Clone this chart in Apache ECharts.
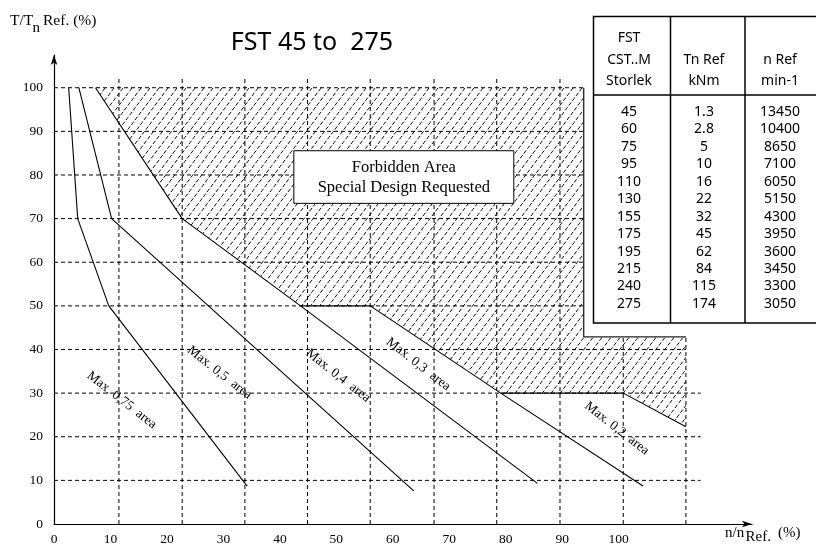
<!DOCTYPE html>
<html><head><meta charset="utf-8">
<script src="https://cdn.jsdelivr.net/npm/echarts@6/dist/echarts.min.js"></script>
<style>html,body{margin:0;padding:0;background:#fff}#c{width:816px;height:546px}</style>
</head><body><div id="c"></div>
<script>
// ---------- data ----------
const xTickLabels = [0,10,20,30,40,50,60,70,80,90,100];
const yTickLabels = [0,10,20,30,40,50,60,70,80,90,100];
const curve075 = [[2.6,100],[4.2,70],[9.7,50],[34.2,8.7]];
const curve05  = [[4.4,100],[10.2,70],[63.7,7.6]];
const curve04  = [[7.35,100],[22.7,70],[43.65,50],[85.6,9.3]];
const curve03  = [[56.0,50],[79.1,30],[104.3,8.7]];
const curve02  = [[79.1,30],[100.8,30],[111.9,22.3]];
const shelf50  = [[43.65,50],[56.0,50]];
const forbiddenArea = [[7.35,100],[22.7,70],[43.65,50],[56.0,50],[79.1,30],[100.8,30],[111.9,22.3],[111.9,42.9],[93.8,42.9],[93.8,100]];
const forbiddenEdge = [[111.9,42.9],[93.8,42.9],[93.8,100]];
const gridXValues = [11.5,22.7,33.8,44.9,56.0,67.3,78.4,89.6,100.8,111.9];
const gridXTops   = [102.6,102.6,102.6,102.6,102.6,102.6,102.6,102.6,42.9,42.9];
const gridYValues = [10,20,30,40,50,60,70,80,90,100];
const gridYEnds   = [114.5,114.5,114.5,111.9,93.8,93.8,93.8,93.8,93.8,93.8];
const areaLabels  = ['Max. 0,75  area','Max. 0,5  area','Max. 0,4  area','Max. 0,3  area','Max. 0,2  area'];
const areaLabelAt = [[12.0,28.4],[29.3,34.7],[50.3,34.0],[64.5,36.6],[99.65,21.9]];
const tableSizes = ['45','60','75','95','110','130','155','175','195','215','240','275'];
const tableTn    = ['1.3','2.8','5','10','16','22','32','45','62','84','115','174'];
const tableN     = ['13450','10400','8650','7100','6050','5150','4300','3950','3600','3450','3300','3050'];

// ---------- helpers ----------
const SERIF = '"Liberation Serif","Times New Roman",serif';
const SANS = '"Noto Sans","DejaVu Sans",sans-serif';
function makeHatch(){
  const c = document.createElement('canvas'); c.width = 18; c.height = 24;
  const g = c.getContext('2d');
  g.strokeStyle = '#111'; g.lineWidth = 1; g.setLineDash([4,2]);
  for (const off of [-18,-9,0,9,18]) { g.beginPath(); g.moveTo(off,24); g.lineTo(off+18,0); g.stroke(); }
  return c;
}
const hatch = makeHatch();

function lineSeries(data){
  return {type:'line', data:data, symbol:'none', silent:true, z:5, animation:false,
    lineStyle:{color:'#000', width:1.1}};
}

const chart = echarts.init(document.getElementById('c'), null, {renderer:'canvas'});

const graphics = [];
// title
graphics.push({type:'text', x:312, y:43, z:50, style:{text:'FST 45 to  275', font:'25px '+SANS, fill:'#000', align:'center', verticalAlign:'middle'}});
// y axis name
graphics.push({type:'text', x:10, y:21, z:50, style:{text:'T/T', font:'15.5px '+SERIF, fill:'#000', align:'left', verticalAlign:'middle'}});
graphics.push({type:'text', x:32.5, y:28.5, z:50, style:{text:'n', font:'15px '+SERIF, fill:'#000', align:'left', verticalAlign:'middle'}});
graphics.push({type:'text', x:43, y:21, z:50, style:{text:'Ref. (%)', font:'15.5px '+SERIF, fill:'#000', align:'left', verticalAlign:'middle'}});
// x axis name
graphics.push({type:'text', x:725, y:533, z:50, style:{text:'n/n', font:'15px '+SERIF, fill:'#000', align:'left', verticalAlign:'middle'}});
graphics.push({type:'text', x:745.5, y:537, z:50, style:{text:'Ref.', font:'15px '+SERIF, fill:'#000', align:'left', verticalAlign:'middle'}});
graphics.push({type:'text', x:778, y:533, z:50, style:{text:'(%)', font:'15px '+SERIF, fill:'#000', align:'left', verticalAlign:'middle'}});
// table
const tL = 593.5, tT = 16.5, tB = 323, tR = 830, hdrY = 95, c1 = 670.5, c2 = 745;
graphics.push({type:'rect', z:60, shape:{x:tL, y:tT, width:tR-tL, height:tB-tT}, style:{fill:'#fff', stroke:'#000', lineWidth:1.5}});
graphics.push({type:'line', z:61, shape:{x1:tL, y1:hdrY, x2:816, y2:hdrY}, style:{stroke:'#000', lineWidth:1.5}});
graphics.push({type:'line', z:61, shape:{x1:c1, y1:tT, x2:c1, y2:tB}, style:{stroke:'#000', lineWidth:1.5}});
graphics.push({type:'line', z:61, shape:{x1:c2, y1:tT, x2:c2, y2:tB}, style:{stroke:'#000', lineWidth:1.5}});
const colX = [629, 704, 780];
const hdr = [[['FST',38],['CST..M',60],['Storlek',81]], [['Tn Ref',60],['kNm',81]], [['n Ref',60],['min-1',81]]];
hdr.forEach((col,i)=>col.forEach(([t,y])=>graphics.push({type:'text', x:colX[i], y:y, z:62, style:{text:t, font:'14px '+SANS, fill:'#000', align:'center', verticalAlign:'middle'}})));
[tableSizes, tableTn, tableN].forEach((col,i)=>col.forEach((t,r)=>graphics.push({type:'text', x:colX[i], y:112+r*17.45, z:62, style:{text:t, font:'14px '+SANS, fill:'#000', align:'center', verticalAlign:'middle'}})));

const option = {
  animation:false,
  backgroundColor:'#fff',
  grid:{left:54, right:64, top:55, bottom:22, containLabel:false, outerBoundsMode:'none'},
  xAxis:{type:'value', min:0, max:123.6, interval:10,
    axisLine:{show:true, onZero:false, symbol:['none','arrow'], symbolSize:[5,10], lineStyle:{color:'#000', width:1.2}},
    axisTick:{show:false}, splitLine:{show:false}, showMaxLabel:false,
    axisLabel:{show:true, margin:8, color:'#000', fontFamily:SERIF, fontSize:13.5, showMaxLabel:false,
      formatter:v => xTickLabels.includes(v) ? String(v) : ''}},
  yAxis:{type:'value', min:0, max:107.5, interval:10,
    axisLine:{show:true, onZero:false, symbol:['none','arrow'], symbolSize:[5,10], lineStyle:{color:'#000', width:1.2}},
    axisTick:{show:false}, splitLine:{show:false},
    axisLabel:{show:true, margin:11, color:'#000', fontFamily:SERIF, fontSize:13.5, showMaxLabel:false,
      formatter:v => yTickLabels.includes(v) ? String(v) : ''}},
  graphic:graphics,
  series:[
    // hatched forbidden area
    {type:'custom', data:[[0,0]], silent:true, z:1, clip:false,
      renderItem:(p,api)=>({type:'polygon', shape:{points:forbiddenArea.map(q=>api.coord(q))},
        style:{fill:{image:hatch, repeat:'repeat'}, stroke:null}})},
    // grid lines
    {type:'custom', data:[[0,0]], silent:true, z:2, clip:false,
      renderItem:(p,api)=>{
        const ch = [];
        gridXValues.forEach((x,i)=>{const a=api.coord([x,0]), b=api.coord([x,gridXTops[i]]);
          ch.push({type:'line', shape:{x1:a[0],y1:a[1],x2:b[0],y2:b[1]}, style:{stroke:'#000', lineWidth:1, lineDash:[4,3]}});});
        gridYValues.forEach((y,i)=>{const a=api.coord([0,y]), b=api.coord([gridYEnds[i],y]);
          ch.push({type:'line', shape:{x1:a[0],y1:a[1],x2:b[0],y2:b[1]}, style:{stroke:'#000', lineWidth:1, lineDash:[4,3]}});});
        return {type:'group', children:ch};
      }},
    lineSeries(curve075), lineSeries(curve05), lineSeries(curve04), lineSeries(curve03), lineSeries(curve02), lineSeries(shelf50),
    {type:'line', data:forbiddenEdge, symbol:'none', silent:true, z:5, lineStyle:{color:'#222', width:1.3}},
    // curve labels
    {type:'custom', data:[[0,0]], silent:true, z:6, clip:false,
      renderItem:(p,api)=>({type:'group', children:areaLabels.map((t,i)=>{const c=api.coord(areaLabelAt[i]);
        return {type:'text', x:c[0], y:c[1], rotation:-38*Math.PI/180,
          style:{text:t, font:'13.5px '+SERIF, fill:'#000', align:'center', verticalAlign:'middle'}};})})},
    // forbidden area note
    {type:'custom', data:[[0,0]], silent:true, z:7, clip:false,
      renderItem:(p,api)=>{
        const a = api.coord([42.47,85.56]), b = api.coord([81.42,73.5]);
        const cx = (a[0]+b[0])/2;
        return {type:'group', children:[
          {type:'rect', shape:{x:a[0], y:a[1], width:b[0]-a[0], height:b[1]-a[1]}, style:{fill:'#fff', stroke:'#000', lineWidth:1}},
          {type:'text', x:cx, y:a[1]+17, style:{text:'Forbidden Area', font:'16.5px '+SERIF, fill:'#000', align:'center', verticalAlign:'middle'}},
          {type:'text', x:cx, y:a[1]+37, style:{text:'Special Design Requested', font:'16.5px '+SERIF, fill:'#000', align:'center', verticalAlign:'middle'}}
        ]};
      }}
  ]
};
chart.setOption(option);
</script>
</body></html>
